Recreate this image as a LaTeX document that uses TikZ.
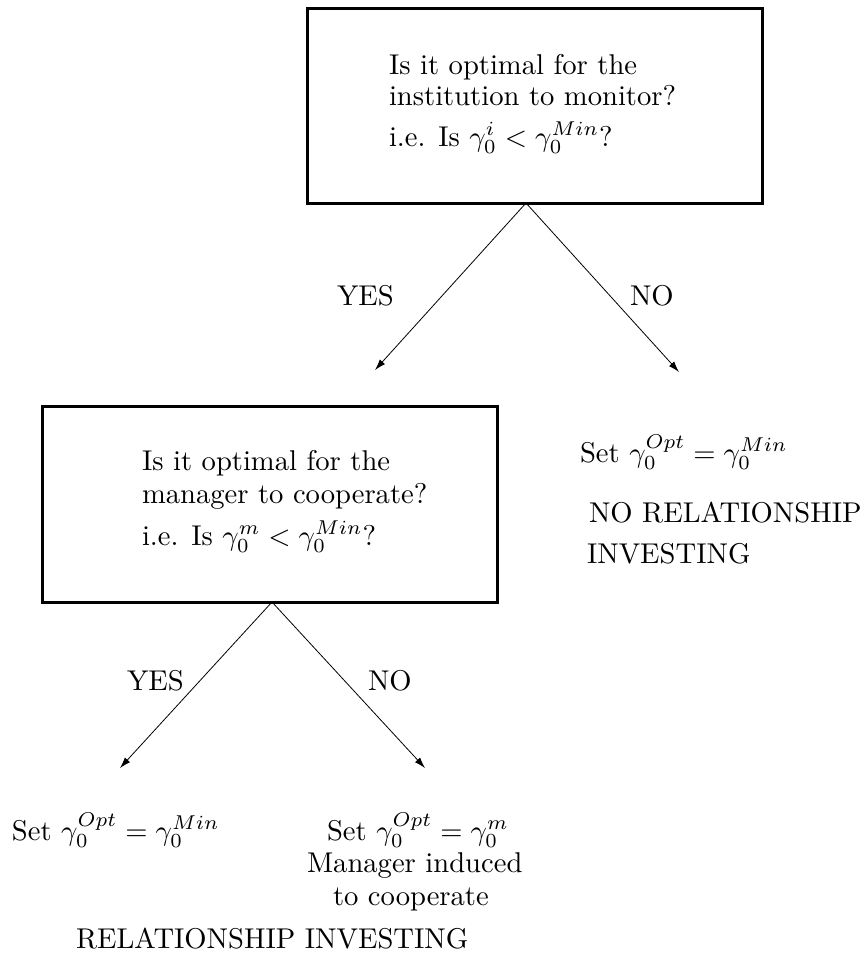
\documentclass[tikz,border=0pt]{standalone}
\usetikzlibrary{arrows.meta}
\usepackage{graphicx}
\newcommand{\bigtxt}[1]{\scalebox{2.86}{\fontsize{10}{12}\selectfont #1}}
\begin{document}
\begin{tikzpicture}[x=1pt,y=-1pt,
  every node/.style={inner sep=0pt,outer sep=0pt,anchor=base west},
  qbox/.style={draw,line width=3pt,inner sep=0pt,anchor=north west},
  conn/.style={line width=0.8pt,-{Latex[length=11pt,width=7pt]}}]
\useasboundingbox (0,0) rectangle (864,956);
% top box
\node[qbox,minimum width=455pt,minimum height=195pt] (box1) at (307,8) {};
\node (t1a) at (389,74) {\bigtxt{Is it optimal for the}};
\node (t1b) at (389,105) {\bigtxt{institution to monitor?}};
\node (t1c) at (389,146) {\bigtxt{i.e. Is $\gamma_0^i<\gamma_0^{Min}$?}};
\coordinate (e1) at (375,370);
\coordinate (e2) at (679,372);
\draw[conn] ([xshift=-8.5pt]box1.south) -- (e1);
\draw[conn] ([xshift=-8.5pt]box1.south) -- (e2);
\node (yes1) at (337,305) {\bigtxt{YES}};
\node (no1) at (630,305) {\bigtxt{NO}};
% right outcome
\node (r1) at (580,462) {\bigtxt{Set $\gamma_0^{Opt}=\gamma_0^{Min}$}};
\node (r2) at (589,522) {\bigtxt{NO RELATIONSHIP}};
\node (r3) at (587,563) {\bigtxt{INVESTING}};
% second box
\node[qbox,minimum width=455pt,minimum height=196pt] (box2) at (42,406) {};
\node (t2a) at (142,470) {\bigtxt{Is it optimal for the}};
\node (t2b) at (142,503) {\bigtxt{manager to cooperate?}};
\node (t2c) at (142,545) {\bigtxt{i.e. Is $\gamma_0^m<\gamma_0^{Min}$?}};
\coordinate (e3) at (120,768);
\coordinate (e4) at (425,768);
\draw[conn] ([xshift=2.5pt]box2.south) -- (e3);
\draw[conn] ([xshift=2.5pt]box2.south) -- (e4);
\node (yes2) at (127,690) {\bigtxt{YES}};
\node (no2) at (368,690) {\bigtxt{NO}};
% bottom outcomes
\node (b1) at (12,840) {\bigtxt{Set $\gamma_0^{Opt}=\gamma_0^{Min}$}};
\node (b2) at (327,840) {\bigtxt{Set $\gamma_0^{Opt}=\gamma_0^{m}$}};
\node (b3) at (307,872) {\bigtxt{Manager induced}};
\node (b4) at (333,905) {\bigtxt{to cooperate}};
\node (b5) at (76,948) {\bigtxt{RELATIONSHIP INVESTING}};
\end{tikzpicture}
\end{document}
